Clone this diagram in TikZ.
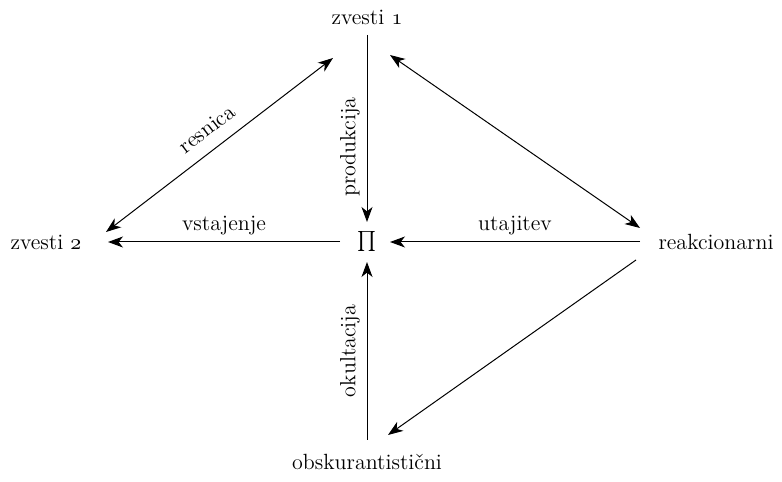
\documentclass[tikz,border=0pt]{standalone}
\usepackage{fontspec}
\usetikzlibrary{arrows.meta}
\newcommand\osnum[1]{{\usefont{OML}{cmm}{m}{it}#1}}
\tikzset{
  lbl/.style={font=\fontsize{11pt}{13pt}\selectfont},
  arr/.style={line width=0.5pt,-{Stealth[length=7.5pt,width=5.5pt,inset=2.2pt]}},
  darr/.style={line width=0.5pt,{Stealth[length=7.5pt,width=5.5pt,inset=2.2pt]}-{Stealth[length=7.5pt,width=5.5pt,inset=2.2pt]}}
}
\begin{document}
\begin{tikzpicture}[x=0.5pt,y=0.5pt,lbl]
        \useasboundingbox (0,0) rectangle (782,482);
        \node (zv1) at (367,465) {zvesti \osnum{1}};
        \node (zv2) at (46,240) {zvesti \osnum{2}};
        \node (pi) at (367,240) {$\prod$};
        \node (reak) at (716,240) {reakcionarni};
        \node (obsk) at (367,20) {obskurantistični};
        \draw[darr] ([shift={(60,10)}]zv2.center) -- ([shift={(-34,-41)}]zv1.center)
            node[pos=0.5,above=3pt,sloped] {resnica};
        \draw[darr] ([shift={(23,-38)}]zv1.center) -- ([shift={(-76,14)}]reak.center);
        \draw[arr] ([shift={(-80,-18)}]reak.center) -- ([shift={(21,27)}]obsk.center);
        \draw[arr] ([shift={(0,-18)}]zv1.center) -- ([shift={(0,20)}]pi.center)
            node[pos=0.6,rotate=90,anchor=south] {produkcija};
        \draw[arr] ([shift={(0,22)}]obsk.center) -- ([shift={(0,-20)}]pi.center)
            node[midway,rotate=90,anchor=south] {okultacija};
        \draw[arr] ([shift={(-27,0)}]pi.center) -- ([shift={(62,0)}]zv2.center)
            node[midway,above] {vstajenje};
        \draw[arr] ([shift={(-76,0)}]reak.center) -- ([shift={(23,0)}]pi.center)
            node[midway,above] {utajitev};
    \end{tikzpicture}
\end{document}
